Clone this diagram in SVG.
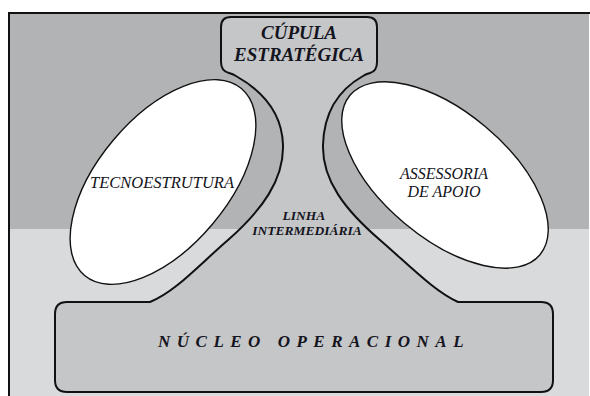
<svg xmlns="http://www.w3.org/2000/svg" width="590" height="396" viewBox="0 0 590 396">
  <style>
    .shape { fill: #c5c6c8; stroke: #111; stroke-width: 2; stroke-linejoin: round; }
    .oval { fill: #ffffff; stroke: #111; stroke-width: 1.4; }
    .bi { font-family: "Liberation Serif", "Times New Roman", serif; font-weight: bold; font-style: italic; fill: #141420; }
    .it { font-family: "Liberation Serif", "Times New Roman", serif; font-style: italic; fill: #141420; }
  </style>
  <rect x="0" y="0" width="590" height="396" fill="#ffffff"/>
  <g id="background">
    <rect x="9" y="13" width="580" height="216" fill="#b2b3b4"/>
    <rect x="9" y="229" width="580" height="167" fill="#d9dadb"/>
    <line x1="8" y1="13" x2="590" y2="13" stroke="#111" stroke-width="2"/>
    <line x1="9" y1="12" x2="9" y2="396" stroke="#111" stroke-width="2"/>
  </g>
  <g id="estrutura-central">
    <path class="shape" d="M 231,17 H 367 Q 377,17 377,27 V 62 Q 377,71 370,73 Q 366,74 363,76 C 340,89 324,110 323,145 C 322,180 345,210 380,240 C 410,266 435,292 458,302 H 541 Q 553,302 553,314 V 380 Q 553,392 541,392 H 67 Q 55,392 55,380 V 314 Q 55,302 67,302 H 150 C 175,292 198,266 228,240 C 262,210 284,180 283,145 C 282,110 259,89 236,76 Q 233,74 229,73 Q 221,71 221,62 V 27 Q 221,17 231,17 Z"/>
  </g>
  <g id="connectors"></g>
  <g id="cupula-estrategica">
    <text class="bi" x="299" y="39" font-size="19" text-anchor="middle">CÚPULA</text>
    <text class="bi" x="299" y="61" font-size="19" text-anchor="middle">ESTRATÉGICA</text>
  </g>
  <g id="tecnoestrutura">
    <ellipse class="oval" cx="163" cy="182" rx="122" ry="65" transform="rotate(-50 163 182)"/>
    <text class="it" x="162" y="188" font-size="16.5" text-anchor="middle">TECNOESTRUTURA</text>
  </g>
  <g id="assessoria-de-apoio">
    <ellipse class="oval" cx="445" cy="175" rx="124" ry="63" transform="rotate(40 445 175)"/>
    <text class="it" x="444" y="179" font-size="16" text-anchor="middle">ASSESSORIA</text>
    <text class="it" x="444" y="197" font-size="16" text-anchor="middle">DE APOIO</text>
  </g>
  <g id="linha-intermediaria">
    <text class="bi" x="304" y="220" font-size="13.5" text-anchor="middle">LINHA</text>
    <text class="bi" x="307" y="235" font-size="13.5" text-anchor="middle">INTERMEDIÁRIA</text>
  </g>
  <g id="nucleo-operacional">
    <text class="bi" x="158" y="347" font-size="17" letter-spacing="6.5">NÚCLEO OPERACIONAL</text>
  </g>
</svg>
